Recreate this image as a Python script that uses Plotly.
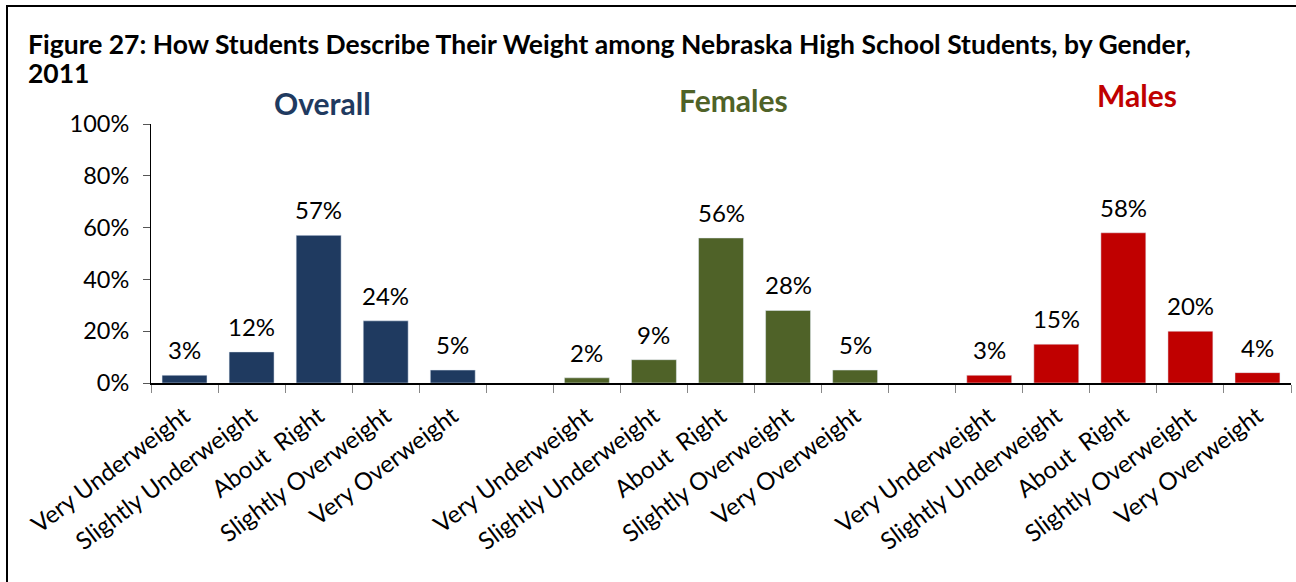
import plotly.graph_objects as go

categories = ["Very Underweight", "Slightly Underweight", "About\u00a0 Right",
              "Slightly Overweight", "Very Overweight"]
groups = ["Overall", "Females", "Males"]
overall = [3, 12, 57, 24, 5]
females = [2, 9, 56, 28, 5]
males = [3, 15, 58, 20, 4]
colors = ["#1F3A60", "#4F6228", "#C00000"]
yticks = [0, 20, 40, 60, 80, 100]

L, R, T, B = 151, 1291, 124, 383
def xp(px):
    return (px - L) / (R - L)
def yp(py):
    return (B - py) / (B - T)

FONT = "Lato"
fig = go.Figure()
series = [overall, females, males]
allcats, alltext = [], []
for gi, g in enumerate(groups):
    keys = [f"{g}_{i}" for i in range(len(categories))]
    allcats += keys
    alltext += categories
    if gi < len(groups) - 1:
        allcats.append(f"gap{gi}")
        alltext.append("")
    fig.add_trace(go.Bar(
        x=keys, y=series[gi], marker_color=colors[gi], width=0.67,
        showlegend=False, hoverinfo="x+y"))
    for k, v in zip(keys, series[gi]):
        fig.add_annotation(x=k, y=v, text=f"{v}%", showarrow=False, xanchor="center",
                           yanchor="bottom", yshift=9,
                           font=dict(family=FONT, size=24, color="black"))

fig.update_layout(
    width=1296, height=582, barmode="overlay",
    margin=dict(l=L, r=1296 - R, t=T, b=582 - B),
    plot_bgcolor="white", paper_bgcolor="white",
    font=dict(family=FONT, color="black"),
    xaxis=dict(type="category", categoryorder="array", categoryarray=allcats,
               tickmode="array", tickvals=allcats, ticktext=alltext,
               tickson="boundaries", ticks="outside", ticklen=8, tickcolor="#888",
               showline=True, linecolor="black", linewidth=1.5,
               tickangle=-37, tickfont=dict(family=FONT, size=24, color="black"),
               ticklabelstandoff=8,
               range=[-0.5, len(allcats) - 0.5]),
    yaxis=dict(range=[0, 100], tickvals=yticks, ticktext=[f"{v}%" for v in yticks],
               showgrid=False, showline=True, linecolor="black", linewidth=1,
               ticks="outside", ticklen=7, tickcolor="#555",
               tickfont=dict(family=FONT, size=23.5, color="black"),
               ticklabelstandoff=9, zeroline=False),
)

fig.add_annotation(xref="paper", yref="paper", x=xp(26), y=yp(44), xanchor="left", yanchor="middle",
                   text="<b>Figure 27: How Students Describe Their Weight among Nebraska High School Students, by Gender,</b>",
                   align="left", showarrow=False, font=dict(family=FONT, size=26.5, color="black"))
fig.add_annotation(xref="paper", yref="paper", x=xp(26), y=yp(73), xanchor="left", yanchor="middle",
                   text="<b>2011</b>",
                   align="left", showarrow=False, font=dict(family=FONT, size=26.5, color="black"))
for name, cx, cy, col in [("Overall", 322, 103, colors[0]), ("Females", 733, 100, colors[1]),
                          ("Males", 1137, 95, colors[2])]:
    fig.add_annotation(xref="paper", yref="paper", x=xp(cx), y=yp(cy), xanchor="center",
                       yanchor="middle", text=f"<b>{name}</b>", showarrow=False,
                       font=dict(family=FONT, size=30, color=col))

fig.add_shape(type="rect", xref="paper", yref="paper", x0=xp(7), x1=xp(1320), y0=yp(620), y1=yp(6),
              line=dict(color="black", width=2), fillcolor="rgba(0,0,0,0)")

fig.write_html("out.html", config={"displayModeBar": False},
               post_script="document.body.style.margin='0';")
